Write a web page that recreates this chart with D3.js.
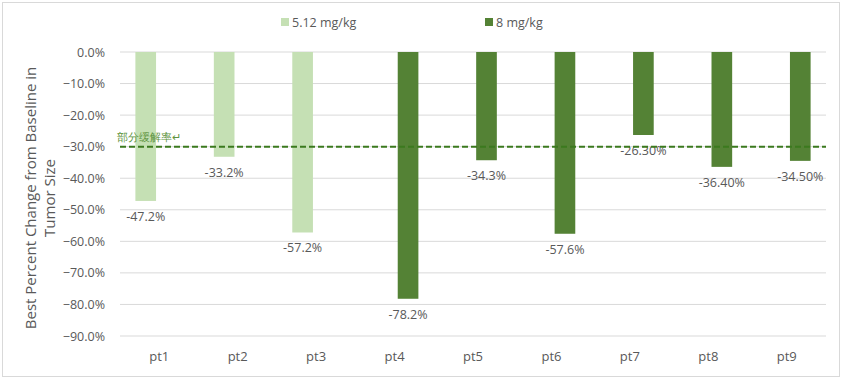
<!DOCTYPE html>
<html><head><meta charset="utf-8">
<script src="https://cdn.jsdelivr.net/npm/d3@7"></script>
<style>body{margin:0;background:#fff}svg{display:block}text{font-family:"Open Sans",sans-serif;fill:#595959}</style>
</head><body><svg id="c" width="843" height="381"></svg>
<script>
const categories = ["pt1","pt2","pt3","pt4","pt5","pt6","pt7","pt8","pt9"];
const seriesNames = ["5.12 mg/kg","8 mg/kg"];
const low = [-0.472,-0.332,-0.572,null,null,null,null,null,null];
const high = [null,null,null,-0.782,-0.343,-0.576,-0.263,-0.364,-0.345];
const labels = ["-47.2%","-33.2%","-57.2%","-78.2%","-34.3%","-57.6%","-26.30%","-36.40%","-34.50%"];
const yTicks = [0,-0.1,-0.2,-0.3,-0.4,-0.5,-0.6,-0.7,-0.8,-0.9];
const threshold = -0.3;
const colors = ["#c5e0b4","#548235"];

const svg = d3.select("#c");
svg.append("rect").attr("x",2.5).attr("y",2.5).attr("width",837).attr("height",374).attr("fill","#fff").attr("stroke","#d9d9d9");

const L=120,R=826,T=52,B=336;
const x = d3.scaleBand().domain(categories).range([L,R]);
const xs = d3.scaleBand().domain(seriesNames).range([0,x.bandwidth()]).paddingInner(0.235).paddingOuter(0.57);
const y = d3.scaleLinear().domain([-0.9,0]).range([B,T]);

// gridlines
svg.append("g").selectAll("line").data(yTicks).join("line")
  .attr("x1",L).attr("x2",R).attr("y1",d=>y(d)).attr("y2",d=>y(d))
  .attr("stroke","#d9d9d9").attr("stroke-width",1);

const yAxis = d3.axisLeft(y).tickValues(yTicks).tickFormat(d3.format(".1%")).tickSize(0).tickPadding(0);
const ga = svg.append("g").attr("transform",`translate(${L-15},0)`).call(yAxis);
ga.select(".domain").remove();
ga.selectAll("text").style("font-size","12.5px").attr("fill","#595959").attr("font-family","'Open Sans',sans-serif");

const xAxis = d3.axisBottom(x).tickSize(0).tickPadding(0);
const gx = svg.append("g").attr("transform",`translate(0,${B+16})`).call(xAxis);
gx.select(".domain").remove();
gx.selectAll("text").style("font-size","13px").attr("fill","#595959").attr("font-family","'Open Sans',sans-serif");

const data = [];
categories.forEach((c,i)=>{
  if(low[i]!=null) data.push({c,s:seriesNames[0],v:low[i],lab:labels[i]});
  if(high[i]!=null) data.push({c,s:seriesNames[1],v:high[i],lab:labels[i]});
});
svg.append("g").selectAll("rect").data(data).join("rect")
  .attr("x",d=>x(d.c)+xs(d.s)).attr("width",xs.bandwidth())
  .attr("y",y(0)).attr("height",d=>y(d.v)-y(0))
  .attr("fill",d=>colors[seriesNames.indexOf(d.s)]);

svg.append("g").selectAll("text").data(data).join("text")
  .attr("x",d=>x(d.c)+xs(d.s)+xs.bandwidth()/2).attr("y",d=>y(d.v)+20)
  .attr("text-anchor","middle").style("font-size","12.5px").text(d=>d.lab);

// threshold line
svg.append("line").attr("x1",L).attr("x2",R).attr("y1",y(threshold)).attr("y2",y(threshold))
  .attr("stroke","#3b7a1e").attr("stroke-width",2).attr("stroke-dasharray","6,3");
svg.append("text").attr("x",117).attr("y",y(threshold)-6).style("font-size","10.5px")
  .style("fill","#5e9440").attr("font-family","'Noto Sans CJK SC',sans-serif").text("部分缓解率↵");

// legend
const lg = svg.append("g");
const lx=[281,485];
seriesNames.forEach((s,i)=>{
  lg.append("rect").attr("x",lx[i]).attr("y",18).attr("width",8).attr("height",8).attr("fill",colors[i]);
  lg.append("text").attr("x",lx[i]+11).attr("y",27).style("font-size","12.5px").text(s);
});

// y title
const yt = svg.append("text").attr("transform",`translate(0,198) rotate(-90)`).attr("text-anchor","middle").style("font-size","15px");
yt.append("tspan").attr("x",0).attr("y",36).text("Best Percent Change from Baseline in");
yt.append("tspan").attr("x",0).attr("y",55).text("Tumor Size");
</script></body></html>
